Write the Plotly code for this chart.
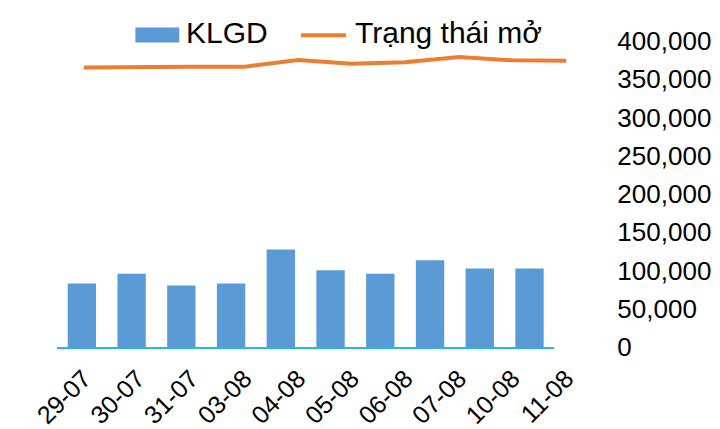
import plotly.graph_objects as go

dates = ["29-07", "30-07", "31-07", "03-08", "04-08", "05-08", "06-08", "07-08", "10-08", "11-08"]
klgd = [82900, 95900, 80300, 82900, 127300, 100200, 95900, 113300, 102500, 102500]
trang_thai_mo = [365200, 366200, 366500, 366500, 375100, 370400, 372100, 379000, 374700, 374300]
series_names = ["KLGD", "Trạng thái mở"]
colors = ["#5B9BD5", "#ED7D31"]
y_ticks = [0, 50000, 100000, 150000, 200000, 250000, 300000, 350000, 400000]

FONT = "Liberation Sans, Arial, sans-serif"

# plot-area geometry (pixels)
W, H = 720, 429
L, R, T, B = 56.5, 126.5, 40.7, 82.3
PW, PH = W - L - R, H - T - B


def px(x):
    return (x - L) / PW


def py(y):
    return (H - B - y) / PH


fig = go.Figure()
fig.add_trace(go.Bar(
    x=dates, y=klgd, name=series_names[0],
    marker=dict(color=colors[0], line=dict(width=0)),
    xaxis="x", yaxis="y",
))
fig.add_trace(go.Scatter(
    x=dates, y=trang_thai_mo, name=series_names[1], mode="lines",
    line=dict(color=colors[1], width=4),
    xaxis="x2", yaxis="y",
))

# custom legend (matches the wide swatch of the original)
shapes = [
    dict(type="rect", xref="paper", yref="paper",
         x0=px(135), x1=px(179), y0=py(42.3), y1=py(27.3),
         fillcolor=colors[0], line=dict(width=0)),
    dict(type="line", xref="paper", yref="paper",
         x0=px(301), x1=px(346), y0=py(35), y1=py(35),
         line=dict(color=colors[1], width=4)),
]
annotations = [
    dict(text=series_names[0], xref="paper", yref="paper", x=px(184), y=py(32),
         xanchor="left", yanchor="middle", showarrow=False,
         font=dict(size=30, family=FONT, color="#000")),
    dict(text=series_names[1], xref="paper", yref="paper", x=px(353), y=py(32),
         xanchor="left", yanchor="middle", showarrow=False,
         font=dict(size=30, family=FONT, color="#000")),
]

fig.update_layout(
    width=W, height=H,
    margin=dict(l=L, r=R, t=T, b=B, pad=0, autoexpand=False),
    paper_bgcolor="white", plot_bgcolor="rgba(0,0,0,0)",
    font=dict(family=FONT, color="#000000"),
    bargap=0.43,
    showlegend=False,
    shapes=shapes,
    annotations=annotations,
    xaxis=dict(
        domain=[0, 498.3 / PW], type="category", range=[-0.5, 9.5],
        showline=True, linecolor="#29B5E8", linewidth=1.5,
        ticks="", showgrid=False, zeroline=False, automargin=False,
        showticklabels=False,
    ),
    xaxis2=dict(
        domain=[0, 1], type="category", range=[-0.5, 9.5],
        anchor="y", side="bottom", showline=False, showgrid=False,
        zeroline=False, ticks="", automargin=False,
        tickangle=-45, tickfont=dict(size=25, family=FONT),
        ticklabelstandoff=11,
    ),
    yaxis=dict(
        range=[0, 400000], side="right", anchor="x", automargin=False,
        showline=False, showgrid=False, zeroline=False, ticks="",
        tickvals=y_ticks,
        tickformat=",d", tickfont=dict(size=26, family=FONT),
        ticklabelstandoff=62,
    ),
)

fig.write_html(
    "out.html",
    config={"displayModeBar": False},
    post_script="document.body.style.margin='0';document.body.style.overflow='hidden';",
)
